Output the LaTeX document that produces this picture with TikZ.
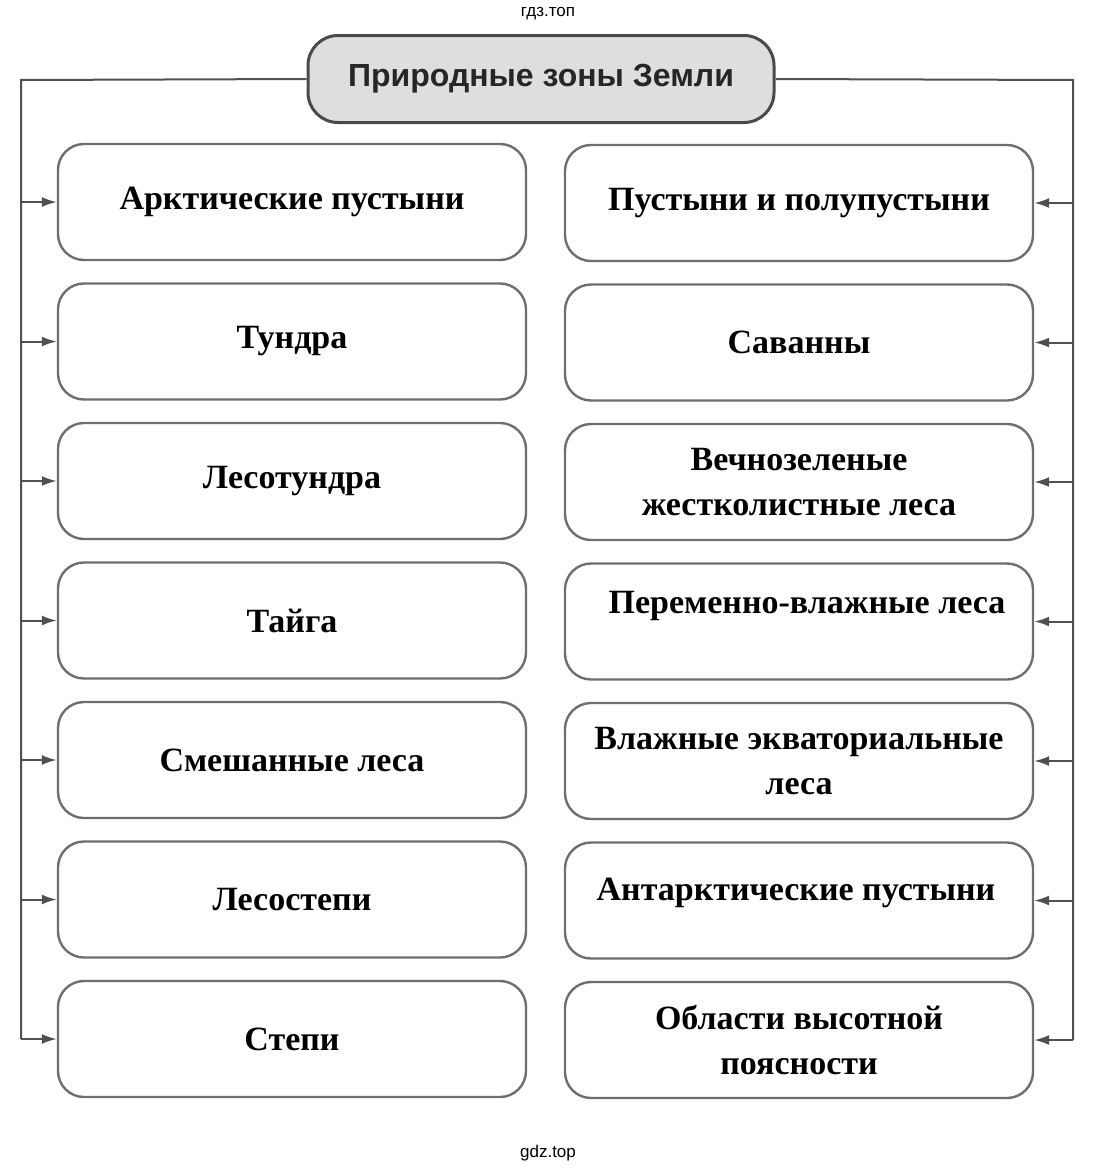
\documentclass[tikz,border=0pt]{standalone}
\usepackage{fontspec}
\setmainfont{Liberation Serif}
\newfontfamily\titlefont{Liberation Sans}
\usetikzlibrary{arrows.meta}
\definecolor{boxline}{HTML}{6E6E6E}
\definecolor{titlefill}{HTML}{DEDEDE}
\definecolor{titleline}{HTML}{4A4A4A}
\definecolor{conn}{HTML}{505050}
\tikzset{
  zonebox/.style={draw=boxline, line width=2.4pt, rounded corners=26pt, minimum width=468pt, minimum height=116pt, inner sep=0pt, align=center, font=\fontsize{34}{45}\selectfont\bfseries, text=black},
  titlebox/.style={draw=titleline, fill=titlefill, line width=3pt, rounded corners=30pt, minimum width=466pt, minimum height=87pt, inner sep=0pt, font=\titlefont\fontsize{32}{38}\selectfont\bfseries, text=black!85},
  link/.style={draw=conn, line width=2pt},
  arr/.style={link, -{Latex[length=15pt,width=10pt]}},
  wm/.style={font=\titlefont\fontsize{17}{20}\selectfont, text=black}
}
\begin{document}
\begin{tikzpicture}[x=1pt,y=-1pt]
\useasboundingbox (0,0) rectangle (1096,1173);
\node[wm] (wmtop) at (548,14) {гдз.топ};
\node[wm] (wmbot) at (548,1153) {gdz.top};
\node[titlebox] (title) at (541,79) {Природные зоны Земли};
% left boxes
\node[zonebox] (l1) at (292,202) {Арктические пустыни};
\node[zonebox] (l2) at (292,341.5) {Тундра};
\node[zonebox] (l3) at (292,481) {Лесотундра};
\node[zonebox] (l4) at (292,620.5) {Тайга};
\node[zonebox] (l5) at (292,760) {Смешанные леса};
\node[zonebox] (l6) at (292,899.5) {Лесостепи};
\node[zonebox] (l7) at (292,1039) {Степи};
% right boxes
\node[zonebox] (r1) at (799,203) {Пустыни и полупустыни};
\node[zonebox] (r2) at (799,342.5) {Саванны};
\node[zonebox] (r3) at (799,482) {Вечнозеленые\\жестколистные леса};
\node[zonebox] (r4) at (799,621.5) {};
\node[zonebox] (r5) at (799,761) {Влажные экваториальные\\леса};
\node[zonebox] (r6) at (799,900.5) {};
\node[zonebox] (r7) at (799,1040) {Области высотной\\поясности};
\node[font=\fontsize{34}{45}\selectfont\bfseries] (r4t) at (807,606) {Переменно-влажные леса};
\node[font=\fontsize{34}{45}\selectfont\bfseries] (r6t) at (796,893) {Антарктические пустыни};
% connectors
\coordinate (lt) at (21,80);
\coordinate (rt) at (1073,80);
\draw[link] (title.west) -- (lt) -- (lt |- l7.west);
\draw[link] (title.east) -- (rt) -- (rt |- r7.east);
\foreach \i in {1,...,7}{
  \draw[arr] (lt |- l\i.west) -- (l\i.west);
  \draw[arr] (rt |- r\i.east) -- (r\i.east);
}
\end{tikzpicture}
\end{document}
